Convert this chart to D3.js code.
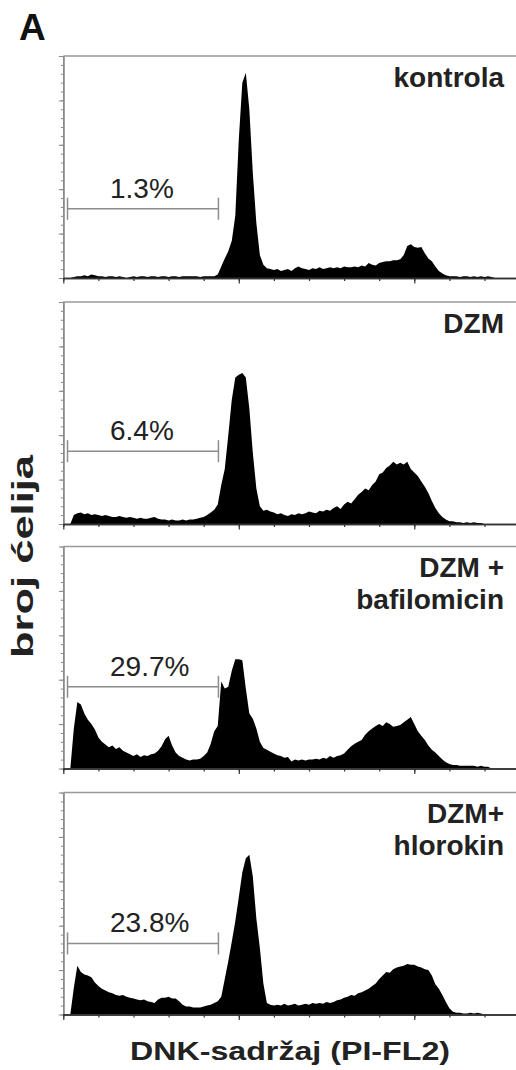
<!DOCTYPE html>
<html><head><meta charset="utf-8">
<script src="https://cdn.jsdelivr.net/npm/d3@7"></script>
<style>body{margin:0;background:#fff}svg{display:block}</style>
</head><body>
<script>
// ---------- DATA ----------
const binStep = 5; // channel width of each histogram bin, starting at channel 0
const panelNames = [["kontrola"], ["DZM"], ["DZM +", "bafilomicin"], ["DZM+", "hlorokin"]];
const gatePercents = ["1.3%", "6.4%", "29.7%", "23.8%"];
const gateRange = [6, 221];           // channels
const gateLevels = [78, 82, 92, 80];  // counts
const countsKontrola = [0,0,0,1,2,2,3,2,4,3, 2,2,1,2,2,1,2,1,0,1, 2,1,2,2,1,2,2,1,2,2, 1,2,2,1,2,2,2,2,2,1,
  2,2,2,2,4,13,22,30,42,70, 156,220,231,190,118,62,26,15,11,10, 9,10,8,9,10,8,11,13,11,10,
  9,11,10,12,10,11,12,11,12,11, 13,12,12,13,12,14,13,17,15,14, 17,18,19,19,20,20,21,26,36,38,
  35,34,35,28,22,19,13,8,5,3, 2,2,2,1,2,2,1,2,1,2, 1,2,1,0];
const countsDZM = [0,0,0,10,12,13,11,12,10,11, 10,9,10,9,8,8,9,8,7,8, 7,6,7,6,6,7,8,6,5,5, 4,5,4,4,5,4,5,5,6,7,
  8,10,13,16,22,44,62,100,140,165, 168,170,165,130,80,40,20,15,16,14, 13,11,12,10,9,11,10,12,11,12,
  14,13,12,15,14,16,15,18,20,17, 22,25,23,28,33,36,40,38,44,48, 56,58,63,66,70,67,69,67,70,62,
  58,54,48,42,35,26,18,12,8,5, 3,3,2,2,1,2,1,2,1,1, 0];
const countsBafilomicin = [0,0,0,45,75,72,62,55,50,44, 35,30,27,24,26,22,24,20,18,16, 14,16,13,15,14,16,17,20,25,33,
  37,26,18,14,12,10,9,10,10,11, 14,18,28,42,48,98,90,92,110,123, 123,122,90,62,56,45,30,23,21,19,
  17,15,14,12,13,8,10,9,10,9, 10,10,11,10,12,11,14,12,14,15, 17,21,25,28,30,32,38,42,45,48,
  50,48,52,50,47,48,49,52,55,58, 50,42,37,32,26,21,18,14,10,7, 5,4,4,3,3,3,3,3,2,3, 2,2,0];
const countsHlorokin = [0,0,0,30,55,48,45,44,42,36, 32,29,27,25,24,22,21,22,20,19, 18,17,16,17,15,14,13,17,19,19,
  20,18,18,15,11,9,9,8,8,8, 9,10,11,13,15,20,40,60,82,105, 132,160,176,180,155,108,75,35,13,11,
  10,11,10,12,10,11,12,10,11,12, 11,13,12,13,12,14,13,14,16,17, 19,20,22,21,24,25,27,29,32,35,
  40,44,48,47,51,53,54,55,57,56, 56,54,53,51,50,44,34,29,22,14, 7,3,2,2,1,1,2,1,2,1, 0];
const panelCounts = [countsKontrola, countsDZM, countsBafilomicin, countsHlorokin];
const xTicks = d3.range(0, 1001, 50);
const xMajorTicks = [0, 250, 500, 750, 1000];
const yTicks = d3.range(0, 251, 10);
const yMajorTicks = d3.range(0, 251, 50);
const figureLetter = "A";
const xTitle = "DNK-sadržaj (PI-FL2)";
const yTitle = "broj ćelija";

// ---------- LAYOUT ----------
const W = 516, H = 1070;
const left = 63.3, panelH = 222;
const panelTops = [56, 302, 546.5, 792.5];
const svg = d3.select("body").append("svg").attr("width", W).attr("height", H)
  .style("font-family", "'Liberation Sans', Arial, sans-serif");

const x = d3.scaleLinear().domain([0, 1000]).range([left, left + 702]);

panelCounts.forEach((counts, i) => {
  const top = panelTops[i], bottom = top + panelH;
  const y = d3.scaleLinear().domain([0, 250]).range([bottom, top]);
  const g = svg.append("g");
  const pts = counts.map((v, k) => ({c: k * binStep, v}));
  g.append("path").datum(pts)
    .attr("d", d3.area().x(d => x(d.c)).y0(y(0)).y1(d => y(d.v)))
    .attr("fill", "#000");

  // top frame
  g.append("line").attr("x1", left).attr("x2", W).attr("y1", top).attr("y2", top)
    .attr("stroke", "#999").attr("stroke-width", 1.5);

  // left axis (gray, minor + major ticks)
  const la = g.append("g").attr("transform", `translate(${left},0)`);
  la.call(d3.axisLeft(y).tickValues(yTicks).tickSize(2.5).tickSizeOuter(0).tickFormat(""));
  la.append("g").call(d3.axisLeft(y).tickValues(yMajorTicks).tickSize(4.5).tickSizeOuter(0).tickFormat(""));
  la.selectAll("path,line").attr("stroke", "#8a8a8a").attr("stroke-width", 1);
  la.selectAll("path.domain").attr("stroke-width", 1.5);

  // bottom axis (dark)
  const ba = g.append("g").attr("transform", `translate(0,${bottom})`);
  ba.call(d3.axisBottom(x).tickValues(xTicks).tickSize(3).tickSizeOuter(0).tickFormat(""));
  ba.append("g").call(d3.axisBottom(x).tickValues(xMajorTicks).tickSize(5.5).tickSizeOuter(0).tickFormat(""));
  ba.selectAll("path,line").attr("stroke", "#333");
  ba.selectAll("path.domain").attr("stroke-width", 1.6);
  ba.selectAll("line").attr("stroke-width", 1.2);

  // gate marker
  const gy = y(gateLevels[i]), gx0 = x(gateRange[0]), gx1 = x(gateRange[1]);
  const gate = g.append("g").attr("stroke", "#8c8c8c").attr("stroke-width", 1.5);
  gate.append("line").attr("x1", gx0).attr("x2", gx1).attr("y1", gy).attr("y2", gy);
  [gx0, gx1].forEach(gx => gate.append("line").attr("x1", gx).attr("x2", gx)
    .attr("y1", gy - 11).attr("y2", gy + 11));
  g.append("text").attr("x", 110).attr("y", gy - 11)
    .attr("font-size", 28).attr("fill", "#222").text(gatePercents[i]);

  // panel label
  panelNames[i].forEach((line, j) => {
    g.append("text").attr("x", 504).attr("y", top + 30.5 + j * 32)
      .attr("text-anchor", "end").attr("font-size", 28).attr("font-weight", "bold")
      .attr("fill", "#222").text(line);
  });
});

// figure letter
svg.append("text").attr("x", 19).attr("y", 40).attr("font-size", 37)
  .attr("font-weight", "bold").attr("fill", "#111").text(figureLetter);

// axis titles
svg.append("text").attr("x", 290).attr("y", 1060).attr("text-anchor", "middle")
  .attr("font-size", 26).attr("font-weight", "bold").attr("fill", "#222")
  .attr("textLength", 320).attr("lengthAdjust", "spacingAndGlyphs").text(xTitle);
svg.append("text").attr("transform", "translate(33,556.5) rotate(-90)")
  .attr("text-anchor", "middle").attr("font-size", 30).attr("font-weight", "bold").attr("fill", "#222")
  .attr("textLength", 203).attr("lengthAdjust", "spacingAndGlyphs").text(yTitle);
</script>
</body></html>
